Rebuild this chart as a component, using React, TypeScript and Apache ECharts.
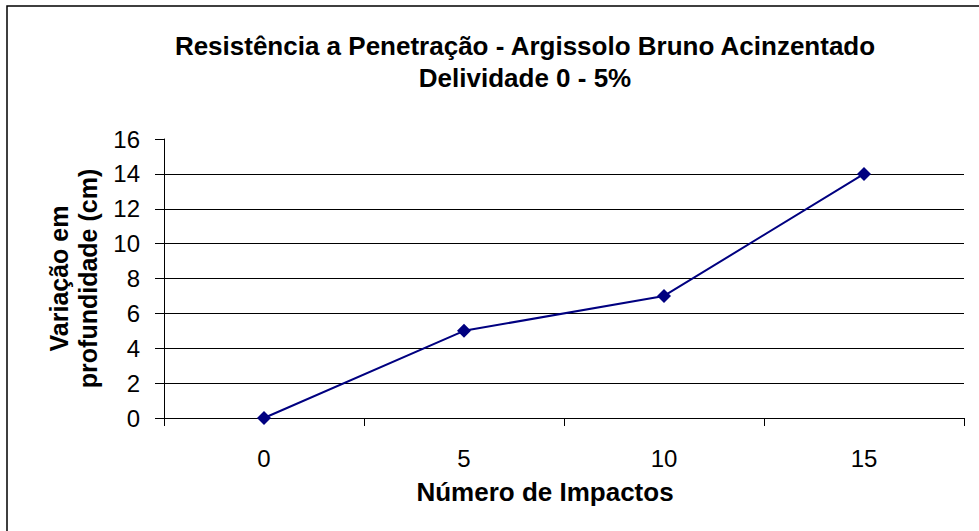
import React, { useEffect, useRef } from "react";
import * as echarts from "echarts";

const titleLines = ["Resistência a Penetração - Argissolo Bruno Acinzentado", "Delividade 0 - 5%"];
const categories = ["0", "5", "10", "15"];
const values = [0, 5, 7, 14];
const xAxisTitle = "Número de Impactos";
const yAxisTitle = ["Variação em", "profundidade (cm)"];

const FONT = "'Liberation Sans', Arial, sans-serif";

export default function App() {
  const ref = useRef<HTMLDivElement>(null);
  useEffect(() => {
    if (!ref.current) return;
    const chart = echarts.init(ref.current, null, { renderer: "svg" });
    chart.setOption({
      animation: false,
      backgroundColor: "#ffffff",
      title: {
        text: titleLines.join("\n"),
        left: 525,
        top: 30,
        padding: 0,
        textAlign: "center",
        textStyle: {
          fontFamily: FONT,
          fontSize: 26,
          fontWeight: "bold",
          color: "#000",
          lineHeight: 32,
        },
      },
      graphic: [
        {
          type: "rect",
          shape: { x: 7, y: 6, width: 1000, height: 600 },
          style: { fill: "none", stroke: "#000", lineWidth: 1.5 },
          z: -1,
        },
      ],
      grid: { left: 164, right: 15, top: 139, bottom: 113 },
      xAxis: {
        type: "category",
        data: categories,
        boundaryGap: true,
        name: xAxisTitle,
        nameLocation: "middle",
        nameGap: 61,
        nameTextStyle: {
          fontFamily: FONT,
          fontSize: 26,
          fontWeight: "bold",
          color: "#000",
          padding: [0, 38, 0, 0],
        },
        axisLine: { lineStyle: { color: "#000", width: 1 } },
        axisTick: { show: true, length: 8, lineStyle: { color: "#000" } },
        axisLabel: { fontFamily: FONT, fontSize: 24, color: "#000", margin: 28 },
        splitLine: { show: false },
      },
      yAxis: {
        type: "value",
        min: 0,
        max: 16,
        interval: 2,
        name: yAxisTitle.join("\n"),
        nameLocation: "middle",
        nameGap: 51,
        nameRotate: 90,
        nameTextStyle: { fontFamily: FONT, fontSize: 25, fontWeight: "bold", color: "#000", lineHeight: 29 },
        axisLine: { show: true, lineStyle: { color: "#000", width: 1 } },
        axisTick: { show: true, length: 9, lineStyle: { color: "#000" } },
        axisLabel: { fontFamily: FONT, fontSize: 24, color: "#000", margin: 24 },
        splitLine: { show: true, showMaxLine: false, lineStyle: { color: "#000", width: 1 } },
      },
      series: [
        {
          type: "line",
          data: values,
          symbol: "diamond",
          symbolSize: 14,
          lineStyle: { color: "#000080", width: 2 },
          itemStyle: { color: "#000080" },
        },
      ],
    });
    return () => chart.dispose();
  }, []);
  return <div ref={ref} style={{ width: 979, height: 531, position: "absolute", left: 0, top: 0 }} />;
}
